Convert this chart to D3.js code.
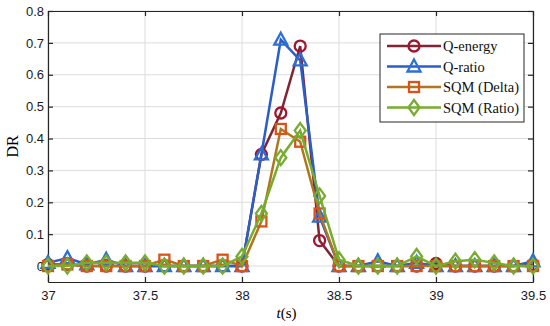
<!DOCTYPE html>
<head>
<meta charset="utf-8">
<style>
body { margin: 0; background: #fff; }
svg { display: block; }
.tick text { font-family: "Liberation Sans", Arial, sans-serif; font-size: 13px; fill: #1a1a1a; }
</style>
</head>
<body>
<script src="https://cdnjs.cloudflare.com/ajax/libs/d3/7.8.5/d3.min.js"></script>
<script>

var width = 550,
    height = 326;

// time stamps, one every 0.1 s
var times = [37.0, 37.1, 37.2, 37.3, 37.4, 37.5, 37.6, 37.7, 37.8, 37.9,
             38.0, 38.1, 38.2, 38.3, 38.4, 38.5, 38.6, 38.7, 38.8, 38.9,
             39.0, 39.1, 39.2, 39.3, 39.4, 39.5];

var qEnergy  = [0.005, 0.005, 0, 0, 0, 0, 0, 0, 0, 0,
                0, 0.35, 0.48, 0.69, 0.08, 0, 0, 0, 0, 0,
                0.008, 0, 0, 0, 0, 0.005];
var qRatio   = [0.01, 0.025, 0.005, 0.02, 0, 0, 0, 0, 0, 0,
                0, 0.35, 0.71, 0.645, 0.155, 0, 0, 0.015, 0, 0.01,
                0, 0, 0, 0, 0, 0.015];
var sqmDelta = [0, 0.005, 0, 0, 0, 0, 0.02, 0, 0, 0.02,
                0, 0.14, 0.43, 0.39, 0.165, 0, 0, 0, 0, 0,
                0, 0, 0, 0, 0, 0];
var sqmRatio = [0, 0, 0.01, 0.01, 0.01, 0.01, 0, 0, 0, 0,
                0.03, 0.165, 0.34, 0.425, 0.22, 0.02, 0, 0, 0, 0.03,
                0, 0.015, 0.02, 0.01, 0, 0];

var seriesNames = ["Q-energy", "Q-ratio", "SQM (Delta)", "SQM (Ratio)"];
var seriesData = [qEnergy, qRatio, sqmDelta, sqmRatio];
var lineColors = ["#7e2634", "#2a5ec9", "#b0761e", "#77ac30"];
var markColors = ["#a2142f", "#2d6fd6", "#d95319", "#77ac30"];
var markShapes = ["circle", "triangle", "square", "diamond"];

var xTicks = [37, 37.5, 38, 38.5, 39, 39.5];
var yTicks = [0, 0.1, 0.2, 0.3, 0.4, 0.5, 0.6, 0.7, 0.8];

var margin = {left: 48, right: 17, top: 11, bottom: 44};

var x = d3.scaleLinear().domain([37, 39.5]).range([margin.left, width - margin.right]);
var y = d3.scaleLinear().domain([-0.05, 0.8]).range([height - margin.bottom, margin.top]);

var svg = d3.select("body").append("svg")
    .attr("width", width)
    .attr("height", height);

// grid
svg.append("g").selectAll("line").data(xTicks).enter().append("line")
    .attr("x1", x).attr("x2", x)
    .attr("y1", y(-0.05)).attr("y2", y(0.8))
    .attr("stroke", "#dcdcdc").attr("stroke-width", 1);
svg.append("g").selectAll("line").data(yTicks).enter().append("line")
    .attr("y1", y).attr("y2", y)
    .attr("x1", x(37)).attr("x2", x(39.5))
    .attr("stroke", "#dcdcdc").attr("stroke-width", 1);

// axes (ticks pointing inward, MATLAB style)
var xAxis = d3.axisBottom(x).tickValues(xTicks).tickSizeInner(-5).tickSizeOuter(0).tickPadding(9)
    .tickFormat(d3.format(""));
var yAxis = d3.axisLeft(y).tickValues(yTicks).tickSizeInner(-5).tickSizeOuter(0).tickPadding(4)
    .tickFormat(function(d) { return d === 0 ? "0" : d3.format(".1f")(d); });

var gx = svg.append("g").attr("transform", "translate(0," + y(-0.05) + ")").call(xAxis);
var gy = svg.append("g").attr("transform", "translate(" + x(37) + ",0)").call(yAxis);
var gxTop = svg.append("g").attr("transform", "translate(0," + y(0.8) + ")")
    .call(d3.axisTop(x).tickValues(xTicks).tickSizeInner(-5).tickSizeOuter(0).tickFormat(""));
var gyRight = svg.append("g").attr("transform", "translate(" + x(39.5) + ",0)")
    .call(d3.axisRight(y).tickValues(yTicks).tickSizeInner(-5).tickSizeOuter(0).tickFormat(""));

[gx, gy, gxTop, gyRight].forEach(function(g) {
  g.selectAll("path, line").attr("stroke", "#262626").attr("stroke-width", 1.2);
});

// lines and markers
var line = d3.line()
    .x(function(d, i) { return x(times[i]); })
    .y(function(d) { return y(d); });

function marker(g, shape, color) {
  if (shape === "circle") {
    g.append("circle").attr("r", 5.5);
  } else if (shape === "triangle") {
    g.append("path").attr("d", "M0,-7L6.5,5L-6.5,5Z");
  } else if (shape === "square") {
    g.append("rect").attr("x", -5).attr("y", -5).attr("width", 10).attr("height", 10);
  } else {
    g.append("path").attr("d", "M0,-7.5L5.5,0L0,7.5L-5.5,0Z");
  }
  g.selectAll("*").attr("fill", "none").attr("stroke", color).attr("stroke-width", 2.3);
}

seriesData.forEach(function(vals, k) {
  var g = svg.append("g");
  g.append("path").datum(vals)
      .attr("d", line)
      .attr("fill", "none")
      .attr("stroke", lineColors[k])
      .attr("stroke-width", 2.5);
  vals.forEach(function(v, i) {
    var m = g.append("g").attr("transform", "translate(" + x(times[i]) + "," + y(v) + ")");
    marker(m, markShapes[k], markColors[k]);
  });
});

// labels
svg.append("text")
    .attr("x", (x(37) + x(39.5)) / 2 - 4).attr("y", 318)
    .attr("text-anchor", "middle")
    .attr("font-family", "Liberation Serif, serif").attr("font-size", 15)
    .html('<tspan font-style="italic">t</tspan>(s)');
svg.append("text")
    .attr("transform", "translate(18," + y(0.375) + ") rotate(-90)")
    .attr("text-anchor", "middle")
    .attr("font-family", "Liberation Serif, serif").attr("font-size", 16)
    .text("DR");

// legend
var lg = svg.append("g").attr("transform", "translate(380,34)");
lg.append("rect").attr("width", 144).attr("height", 88)
    .attr("fill", "#fff").attr("stroke", "#262626").attr("stroke-width", 1);
seriesNames.forEach(function(name, k) {
  var row = lg.append("g").attr("transform", "translate(0," + (12 + k * 20.5) + ")");
  row.append("line").attr("x1", 7).attr("x2", 61)
      .attr("stroke", lineColors[k]).attr("stroke-width", 2.5);
  marker(row.append("g").attr("transform", "translate(34,0)"), markShapes[k], markColors[k]);
  row.append("text").attr("x", 63).attr("y", 5)
      .attr("font-family", "Liberation Serif, serif").attr("font-size", 14.5)
      .attr("fill", "#111")
      .text(name);
});

</script>
</body>
</html>
